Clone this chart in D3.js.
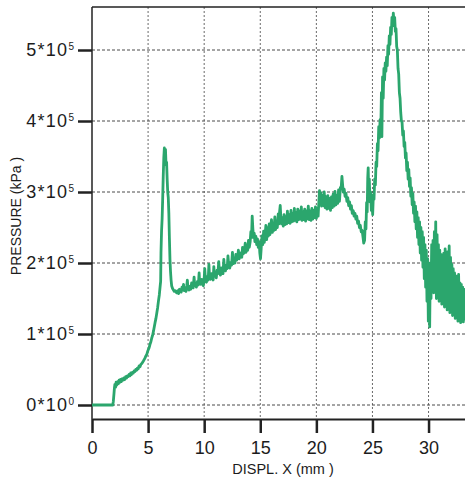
<html>
<script src="https://d3js.org/d3.v7.min.js"></script>
<style>
    body {
        margin: 0;
        background: #fff;
    }

    text {
        font-family: "Liberation Sans", Arial, sans-serif;
        fill: #1c1c1c;
    }

    .grid line {
        stroke: #4a4a4a;
        stroke-width: 1;
        stroke-dasharray: 3 2;
    }

    .trace {
        fill: none;
        stroke: #2ba66d;
        stroke-width: 2.8;
        stroke-linejoin: round;
    }
</style>

<body>
    <div id="chart"></div>
    <script>
        // displacement (mm) , pressure (10^3 kPa)
        var baseRise = [
            [0, 0], [1.85, 0], [1.9, 5], [1.96, 16], [2.0, 24], [2.04, 29], [2.1, 25], [2.15, 32], [2.2, 28], [2.28, 33],
            [2.35, 30], [2.42, 35], [2.5, 32], [2.56, 36], [2.62, 33], [2.7, 37], [2.78, 35], [2.85, 38], [2.92, 36], [3.0, 40],
            [3.08, 38], [3.15, 41], [3.22, 40], [3.3, 43], [3.38, 41], [3.45, 45], [3.52, 43], [3.6, 46], [3.68, 45], [3.75, 48],
            [3.82, 47], [3.9, 50], [3.98, 49], [4.05, 52], [4.12, 51], [4.2, 55], [4.28, 54], [4.35, 57], [4.42, 58], [4.5, 60],
            [4.58, 62], [4.65, 64], [4.72, 66], [4.8, 69], [4.88, 71], [4.95, 75], [5.02, 78], [5.1, 81], [5.18, 86], [5.25, 89],
            [5.32, 94], [5.4, 98], [5.48, 104], [5.55, 110], [5.62, 116], [5.7, 122], [5.78, 130], [5.85, 137], [5.92, 146], [6.0, 155],
            [6.08, 168], [6.12, 174], [6.15, 215], [6.2, 245], [6.25, 262], [6.3, 290], [6.35, 322], [6.4, 348], [6.45, 362], [6.5, 350],
            [6.55, 360], [6.6, 338], [6.65, 342], [6.7, 318], [6.75, 300], [6.8, 292], [6.85, 270], [6.9, 235], [6.95, 205], [7.0, 188],
            [7.05, 176], [7.1, 168], [7.18, 164], [7.26, 162], [7.34, 160], [7.42, 161], [7.5, 159]
        ];

        var plateau = [
            [7.55, 158], [7.65, 161], [7.72, 157], [7.8, 163], [7.86, 160], [7.95, 159], [8.02, 166], [8.1, 162], [8.16, 170], [8.22, 161],
            [8.3, 163], [8.38, 160], [8.45, 168], [8.5, 176], [8.56, 164], [8.64, 162], [8.72, 167], [8.8, 163], [8.88, 172], [8.95, 166],
            [9.02, 165], [9.1, 180], [9.16, 168], [9.24, 170], [9.3, 166], [9.4, 174], [9.48, 169], [9.55, 186], [9.6, 171], [9.7, 170],
            [9.78, 177], [9.85, 172], [9.92, 168], [10.0, 178], [10.05, 192], [10.12, 175], [10.2, 173], [10.28, 181], [10.36, 176], [10.42, 198],
            [10.48, 179], [10.56, 177], [10.65, 185], [10.72, 180], [10.8, 176], [10.86, 195], [10.92, 182], [11.0, 184], [11.08, 179], [11.15, 190],
            [11.22, 185], [11.3, 202], [11.36, 186], [11.45, 183], [11.52, 193], [11.6, 188], [11.68, 185], [11.75, 205], [11.82, 190], [11.9, 189],
            [11.98, 197], [12.05, 192], [12.12, 210], [12.2, 195], [12.28, 193], [12.36, 201], [12.44, 197], [12.52, 215], [12.58, 199], [12.66, 203],
            [12.74, 200], [12.82, 212], [12.9, 204], [12.98, 207], [13.05, 218], [13.12, 206], [13.2, 210], [13.28, 214], [13.35, 208], [13.42, 222],
            [13.5, 213], [13.58, 216], [13.66, 228], [13.72, 215], [13.8, 220], [13.88, 218], [13.95, 232], [14.02, 222], [14.1, 230], [14.16, 244],
            [14.22, 236], [14.28, 266], [14.34, 248], [14.4, 236], [14.46, 242], [14.52, 230], [14.6, 238], [14.68, 226], [14.75, 234], [14.82, 222],
            [14.9, 230], [14.96, 214], [15.02, 206], [15.08, 220], [15.15, 238], [15.22, 226], [15.3, 245], [15.36, 229], [15.44, 241], [15.5, 253],
            [15.57, 233], [15.64, 249], [15.72, 238], [15.8, 255], [15.86, 240], [15.94, 252], [16.0, 261], [16.08, 243], [16.15, 256], [16.22, 246],
            [16.3, 265], [16.36, 247], [16.44, 259], [16.52, 250], [16.6, 269], [16.66, 255], [16.72, 272], [16.78, 281], [16.84, 262], [16.9, 255],
            [16.98, 264], [17.05, 252], [17.12, 268], [17.2, 254], [17.28, 265], [17.35, 255], [17.42, 273], [17.5, 257], [17.58, 268], [17.66, 256],
            [17.74, 274], [17.8, 258], [17.88, 270], [17.96, 259], [18.04, 277], [18.1, 260], [18.18, 271], [18.26, 258], [18.34, 276], [18.42, 261],
            [18.5, 273], [18.58, 262], [18.66, 279], [18.72, 260], [18.8, 272], [18.88, 261], [18.96, 276], [19.04, 259], [19.12, 273], [19.2, 262],
            [19.28, 280], [19.36, 261], [19.44, 273], [19.52, 260], [19.6, 277], [19.68, 262], [19.76, 274], [19.84, 264], [19.92, 279], [20.0, 263],
            [20.08, 277], [20.16, 266], [20.22, 286], [20.28, 302], [20.34, 284], [20.4, 299], [20.46, 280], [20.54, 295], [20.62, 281], [20.7, 300],
            [20.78, 278], [20.86, 293], [20.94, 276], [21.02, 295], [21.1, 277], [21.18, 291], [21.26, 274], [21.34, 293], [21.42, 278], [21.5, 297],
            [21.58, 280], [21.66, 301], [21.74, 282], [21.82, 295], [21.9, 284], [21.98, 303], [22.06, 287], [22.14, 306], [22.22, 308], [22.28, 322],
            [22.34, 310], [22.4, 300], [22.48, 304], [22.56, 294], [22.64, 298], [22.72, 287], [22.8, 292], [22.88, 281], [22.96, 286], [23.04, 276],
            [23.12, 281], [23.2, 270], [23.28, 274], [23.36, 266], [23.44, 270], [23.52, 262], [23.6, 266], [23.68, 256], [23.76, 259], [23.84, 250],
            [23.92, 253], [24.0, 244], [24.08, 246], [24.16, 236], [24.22, 228]
        ];

        var mainPeak = [
            [24.3, 232], [24.36, 258], [24.42, 248], [24.48, 285], [24.53, 272], [24.58, 320], [24.62, 334], [24.67, 296], [24.72, 318], [24.78, 286],
            [24.84, 300], [24.9, 274], [24.96, 284], [25.02, 268], [25.08, 296], [25.14, 290], [25.2, 318], [25.26, 310], [25.32, 342], [25.38, 336],
            [25.44, 368], [25.5, 358], [25.56, 392], [25.62, 376], [25.68, 402], [25.74, 384], [25.8, 440], [25.84, 378], [25.9, 462], [25.96, 432],
            [26.02, 474], [26.08, 458], [26.14, 482], [26.2, 470], [26.26, 490], [26.32, 478], [26.38, 506], [26.44, 494], [26.5, 520], [26.56, 508],
            [26.62, 532], [26.68, 522], [26.74, 546], [26.8, 534], [26.86, 552], [26.92, 540], [26.98, 546], [27.04, 526], [27.1, 530], [27.16, 505],
            [27.22, 500], [27.28, 474], [27.34, 466], [27.4, 440], [27.46, 432]
        ];

        var tail = [
            [27.52, 412], [27.58, 400], [27.64, 398], [27.7, 380], [27.76, 386], [27.82, 364], [27.88, 370], [27.94, 348], [28.0, 355], [28.06, 330],
            [28.12, 342], [28.18, 318], [28.24, 332], [28.3, 308], [28.36, 320], [28.42, 294], [28.48, 306], [28.54, 282], [28.6, 298], [28.66, 270],
            [28.72, 286], [28.78, 258], [28.84, 280], [28.9, 248], [28.96, 272], [29.02, 236], [29.08, 264], [29.14, 226], [29.2, 258], [29.26, 214],
            [29.32, 250], [29.38, 204], [29.44, 244], [29.5, 194], [29.56, 236], [29.62, 178], [29.68, 226], [29.74, 166], [29.8, 218], [29.86, 146],
            [29.92, 206], [29.98, 118], [30.04, 194], [30.1, 110], [30.16, 200], [30.22, 150], [30.28, 226], [30.34, 170], [30.4, 232], [30.46, 158],
            [30.52, 244], [30.58, 176], [30.64, 258], [30.7, 150], [30.76, 240], [30.82, 182], [30.88, 226], [30.94, 146], [31.0, 218], [31.06, 168],
            [31.12, 212], [31.18, 142], [31.24, 206], [31.3, 160], [31.36, 214], [31.42, 138], [31.48, 220], [31.54, 156], [31.6, 205], [31.66, 134],
            [31.72, 216], [31.78, 150], [31.84, 224], [31.9, 130], [31.96, 208], [32.02, 148], [32.08, 198], [32.14, 126], [32.2, 192], [32.26, 140],
            [32.32, 186], [32.38, 122], [32.44, 182], [32.5, 136], [32.56, 176], [32.62, 118], [32.68, 184], [32.74, 128], [32.8, 172], [32.86, 116],
            [32.92, 170], [32.98, 126], [33.04, 166], [33.1, 117], [33.16, 163], [33.22, 121], [33.3, 160], [33.4, 118]
        ];

        var xTicks = [0, 5, 10, 15, 20, 25, 30];
        var yTicks = [0, 100, 200, 300, 400, 500];
        var yTickMantissa = ["0*10", "1*10", "2*10", "3*10", "4*10", "5*10"];
        var yTickExponent = ["0", "5", "5", "5", "5", "5"];

        var width = 465, height = 481;
        var plotLeft = 92, plotRight = 465, plotTop = 7, axisY = 419;

        var x = d3.scaleLinear().domain([0, 33.25]).range([plotLeft, plotRight]);
        var y = d3.scaleLinear().domain([0, 500]).range([405, 50]);

        var svg = d3.select("#chart")
            .append("svg")
            .attr("width", width)
            .attr("height", height);

        svg.append("defs").append("clipPath")
            .attr("id", "plotclip")
            .append("rect")
            .attr("x", plotLeft)
            .attr("y", plotTop)
            .attr("width", plotRight - plotLeft)
            .attr("height", axisY - plotTop);

        // grid
        var grid = svg.append("g").attr("class", "grid");
        grid.selectAll(".vg")
            .data(xTicks.slice(1))
            .enter()
            .append("line")
            .attr("x1", d => x(d)).attr("x2", d => x(d))
            .attr("y1", plotTop).attr("y2", axisY)
            .style("stroke-dasharray", "2 2")
            .style("stroke", "#6a6a6a");
        grid.selectAll(".hg")
            .data(yTicks)
            .enter()
            .append("line")
            .attr("x1", plotLeft).attr("x2", plotRight)
            .attr("y1", d => y(d)).attr("y2", d => y(d));

        // frame
        svg.append("line")
            .attr("x1", plotLeft).attr("x2", plotRight)
            .attr("y1", plotTop).attr("y2", plotTop)
            .attr("stroke", "#222").attr("stroke-width", 1.5);
        svg.append("line")
            .attr("x1", plotLeft).attr("x2", plotLeft)
            .attr("y1", plotTop).attr("y2", axisY)
            .attr("stroke", "#222").attr("stroke-width", 1.5);

        // trace
        var trace = baseRise.concat(plateau, mainPeak, tail);
        svg.append("path")
            .datum(trace)
            .attr("class", "trace")
            .attr("clip-path", "url(#plotclip)")
            .attr("d", d3.line()
                .x(function (d) { return x(d[0]) })
                .y(function (d) { return y(d[1]) })
            );

        // x axis
        var xAxis = svg.append("g")
            .attr("transform", "translate(0," + axisY + ")")
            .call(d3.axisBottom(x).tickValues(xTicks).tickSize(14).tickSizeOuter(0).tickPadding(8));
        xAxis.select(".domain").attr("stroke", "#222").attr("stroke-width", 2);
        xAxis.selectAll(".tick line").attr("stroke", "#222").attr("stroke-width", 2.5);
        xAxis.selectAll(".tick text")
            .style("font-size", "18px")
            .attr("fill", "#1c1c1c")
            .attr("font-family", null);

        // y axis
        var yAxis = svg.append("g")
            .attr("transform", "translate(" + plotLeft + ",0)")
            .call(d3.axisLeft(y).tickValues(yTicks).tickSize(14).tickFormat(""));
        yAxis.select(".domain").remove();
        yAxis.selectAll(".tick line").attr("stroke", "#222").attr("stroke-width", 2.5);

        var yLabels = svg.append("g");
        yTicks.forEach(function (t, i) {
            var lab = yLabels.append("text")
                .attr("x", 74)
                .attr("y", y(t))
                .attr("dy", "0.36em")
                .attr("text-anchor", "end")
                .style("font-size", "18px");
            lab.append("tspan")
                .style("letter-spacing", "1.3px")
                .text(yTickMantissa[i]);
            lab.append("tspan")
                .attr("dy", "-0.6em")
                .style("font-size", "10px")
                .text(yTickExponent[i]);
        });

        // axis titles
        svg.append("text")
            .attr("x", 283)
            .attr("y", 474)
            .attr("text-anchor", "middle")
            .style("font-size", "14.5px")
            .text("DISPL. X (mm )");

        svg.append("text")
            .attr("transform", "translate(21,216) rotate(-90)")
            .attr("text-anchor", "middle")
            .style("font-size", "14px")
            .text("PRESSURE (kPa )");
    </script>
</body>

</html>
